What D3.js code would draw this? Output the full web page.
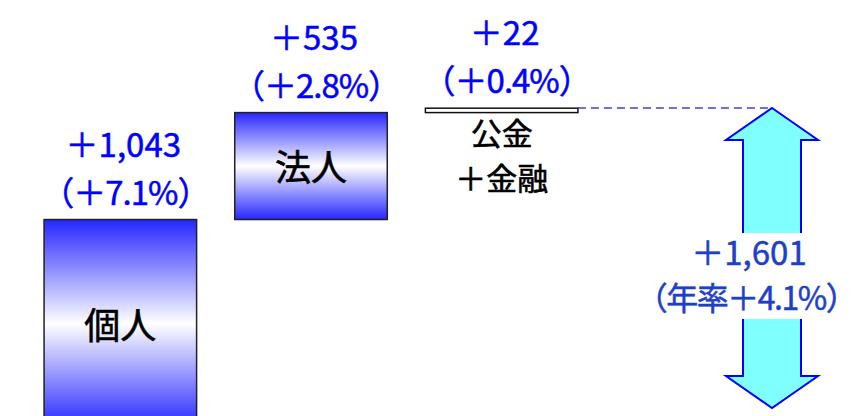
<!DOCTYPE html>
<html>
<head>
<meta charset="utf-8">
<script src="https://cdn.jsdelivr.net/npm/d3@7"></script>
<style>
  body { margin: 0; background: #fff; }
  text { font-family: "Noto Sans CJK JP", "Noto Sans", sans-serif; }
</style>
</head>
<body>
<div id="chart"></div>
<script>
let categories = ["個人", "法人", "公金"]
let categoryLines = [["個人"], ["法人"], ["公金", "＋金融"]]
let values = [1043, 535, 22]
let growth = [7.1, 2.8, 0.4]
let total = 1601
let annualRate = 4.1

;(() => {

  let width = 860
  let height = 416

  let svg = d3.select("#chart")
  .append("svg")
  .attr("width", width)
  .attr("height", height)

  // waterfall: each bar starts where the previous one ended
  let data = []
  let run = 0
  values.forEach((v, i) => {
    data.push({name: categories[i], lines: categoryLines[i], value: v, growth: growth[i], start: run, end: run + v})
    run += v
  })

  let x = d3.scaleBand()
  .domain(categories)
  .range([25, 597])
  .paddingInner(0.2)
  .paddingOuter(0.1)

  let y = d3.scaleLinear()
  .domain([0, total])
  .range([428, 108])

  let arrowX = 772

  let defs = svg.append("defs")
  let grad = defs.append("linearGradient")
  .attr("id", "barGrad")
  .attr("x1", 0).attr("y1", 0)
  .attr("x2", 0).attr("y2", 1)
  grad.append("stop").attr("offset", "0%").attr("stop-color", "#2626ff")
  grad.append("stop").attr("offset", "50%").attr("stop-color", "#ffffff")
  grad.append("stop").attr("offset", "100%").attr("stop-color", "#2626ff")

  let big = data.filter(d => d.value > 100)
  let small = data.filter(d => d.value <= 100)

  // bars
  svg.selectAll(".bar")
  .data(big)
  .enter()
  .append("rect")
  .attr("class", "bar")
  .attr("x", d => x(d.name))
  .attr("y", d => y(d.end))
  .attr("width", x.bandwidth())
  .attr("height", d => y(d.start) - y(d.end))
  .attr("fill", "url(#barGrad)")
  .attr("stroke", "#222")
  .attr("stroke-width", 1.5)

  // thin bar
  svg.selectAll(".thin")
  .data(small)
  .enter()
  .append("rect")
  .attr("class", "thin")
  .attr("x", d => x(d.name))
  .attr("y", d => y(d.end))
  .attr("width", x.bandwidth())
  .attr("height", d => y(d.start) - y(d.end))
  .attr("fill", "#fff")
  .attr("stroke", "#111")
  .attr("stroke-width", 1.5)

  // names inside big bars
  svg.selectAll(".name")
  .data(big)
  .enter()
  .append("text")
  .attr("class", "name")
  .attr("x", d => x(d.name) + x.bandwidth() / 2)
  .attr("y", d => (y(d.start) + y(d.end)) / 2 + 2)
  .attr("dy", "0.36em")
  .style("text-anchor", "middle")
  .style("font-size", "36px")
  .style("fill", "#000")
  .style("stroke", "#000")
  .style("stroke-width", "0.6px")
  .text(d => d.lines[0])

  // names under thin bar
  small.forEach(d => {
    d.lines.forEach((l, j) => {
      svg.append("text")
      .attr("x", x(d.name) + x.bandwidth() / 2)
      .attr("y", y(d.start) + 21 + j * 45)
      .attr("dy", "0.36em")
      .style("text-anchor", "middle")
      .style("font-size", "31px")
      .style("fill", "#000")
      .style("stroke", "#000")
      .style("stroke-width", "0.6px")
      .text(l)
    })
  })

  // value labels
  let labels = svg.selectAll(".val")
  .data(data)
  .enter()

  labels.append("text")
  .attr("x", d => x(d.name) + x.bandwidth() / 2 + 3)
  .attr("y", d => y(d.end) - 63)
  .style("text-anchor", "middle")
  .style("font-size", "33px")
  .style("fill", "#0000ff")
  .style("stroke", "#0000ff")
  .style("stroke-width", "0.5px")
  .text(d => "＋" + d3.format(",")(d.value))

  labels.append("text")
  .attr("x", d => x(d.name) + x.bandwidth() / 2 + 5)
  .attr("y", d => y(d.end) - 15)
  .style("text-anchor", "middle")
  .style("font-size", "33px")
  .style("fill", "#0000ff")
  .style("stroke", "#0000ff")
  .style("stroke-width", "0.5px")
  .style("letter-spacing", "-1px")
  .text(d => "（＋" + d.growth.toFixed(1) + "%）")

  // dashed line to the total
  let last = data[data.length - 1]
  svg.append("line")
  .attr("x1", x(last.name) + x.bandwidth())
  .attr("y1", y(total))
  .attr("x2", arrowX)
  .attr("y2", y(total))
  .attr("stroke", "#4040dd")
  .attr("stroke-width", 1.5)
  .attr("stroke-dasharray", "8,5")

  // double arrow for the total
  let top = y(total)
  let bottom = height - 8
  let shaft = 29
  let head = 46
  let headH = 32
  let pts = [
    [arrowX, top],
    [arrowX + head, top + headH],
    [arrowX + shaft, top + headH],
    [arrowX + shaft, bottom - headH],
    [arrowX + head, bottom - headH],
    [arrowX, bottom],
    [arrowX - head, bottom - headH],
    [arrowX - shaft, bottom - headH],
    [arrowX - shaft, top + headH],
    [arrowX - head, top + headH]
  ]
  svg.append("path")
  .attr("d", d3.line()(pts) + "Z")
  .attr("fill", "#80ffff")
  .attr("stroke", "#0000ff")
  .attr("stroke-width", 2)

  // total label with white box behind
  let tg = svg.append("g")
  let bg = tg.append("rect").attr("fill", "#fff")
  tg.append("text")
  .attr("x", arrowX - 23)
  .attr("y", 265)
  .style("text-anchor", "middle")
  .style("font-size", "33px")
  .style("fill", "#1e40c8")
  .style("stroke", "#1e40c8")
  .style("stroke-width", "0.5px")
  .text("＋" + d3.format(",")(total))
  tg.append("text")
  .attr("x", arrowX - 26)
  .attr("y", 310)
  .style("text-anchor", "middle")
  .style("font-size", "32px")
  .style("fill", "#1e40c8")
  .style("stroke", "#1e40c8")
  .style("stroke-width", "0.5px")
  .style("letter-spacing", "-1.5px")
  .text("（年率＋" + annualRate.toFixed(1) + "%）")
  let bb = tg.node().getBBox()
  bg.attr("x", bb.x)
  .attr("y", bb.y + 6)
  .attr("width", bb.width)
  .attr("height", bb.height - 6)

})()
</script>
</body>
</html>
